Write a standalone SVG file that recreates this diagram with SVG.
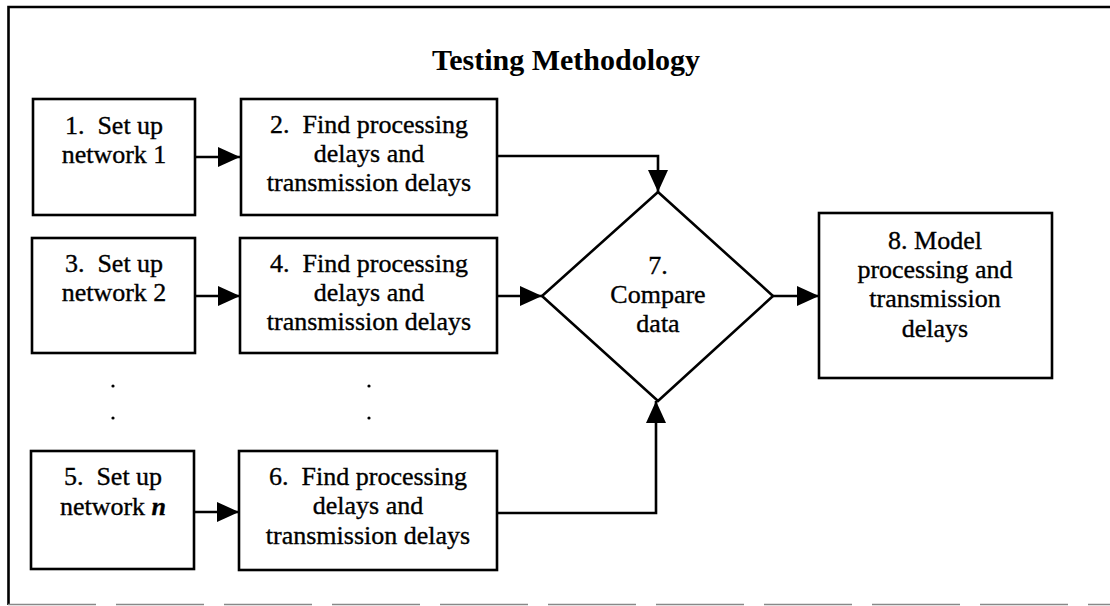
<svg xmlns="http://www.w3.org/2000/svg" width="1110" height="606" viewBox="0 0 1110 606">
  <style>
    .box { fill: #fff; stroke: #000; stroke-width: 2.6; }
    .txt { font-family: "Liberation Serif", "Times New Roman", serif; font-size: 26px; fill: #000; stroke: #000; stroke-width: 0.35; text-anchor: middle; }
    .title { font-family: "Liberation Serif", "Times New Roman", serif; font-size: 30px; font-weight: bold; fill: #000; text-anchor: middle; }
    .conn { fill: none; stroke: #000; stroke-width: 2.6; marker-end: url(#arrow); }
    .dot { fill: #000; }
  </style>
  <defs>
    <marker id="arrow" markerUnits="userSpaceOnUse" markerWidth="22" markerHeight="20" refX="22" refY="10" orient="auto">
      <path d="M0,0 L22,10 L0,20 Z" fill="#000"/>
    </marker>
  </defs>
  <rect width="1110" height="606" fill="#fff"/>

  <!-- outer frame -->
  <g id="frame">
    <path d="M1110,7 H8.5 V605" fill="none" stroke="#000" stroke-width="2.6"/>
    <line x1="8" y1="604.5" x2="1110" y2="604.5" stroke="#888" stroke-width="1.3" stroke-dasharray="88,20"/>
  </g>

  <text class="title" x="566" y="70">Testing Methodology</text>

  <!-- connectors -->
  <g id="connectors">
    <line class="conn" x1="195" y1="157" x2="240" y2="157"/>
    <line class="conn" x1="195" y1="296" x2="240" y2="296"/>
    <line class="conn" x1="194" y1="512" x2="239" y2="512"/>
    <path class="conn" d="M497,156 H658 V192"/>
    <line class="conn" x1="497" y1="296" x2="542" y2="296"/>
    <path class="conn" d="M497,513 H656 V401"/>
    <line class="conn" x1="773" y1="296" x2="819" y2="296"/>
  </g>

  <g id="n1">
    <rect class="box" x="33" y="99" width="162" height="116"/>
    <text class="txt" x="114" y="134">1.&#160; Set up</text>
    <text class="txt" x="114" y="163">network 1</text>
  </g>
  <g id="n2">
    <rect class="box" x="241" y="99" width="256" height="116"/>
    <text class="txt" x="369" y="133">2.&#160; Find processing</text>
    <text class="txt" x="369" y="162">delays and</text>
    <text class="txt" x="369" y="191">transmission delays</text>
  </g>
  <g id="n3">
    <rect class="box" x="32" y="238" width="163" height="115"/>
    <text class="txt" x="114" y="272">3.&#160; Set up</text>
    <text class="txt" x="114" y="301">network 2</text>
  </g>
  <g id="n4">
    <rect class="box" x="240" y="238" width="257" height="115"/>
    <text class="txt" x="369" y="272">4.&#160; Find processing</text>
    <text class="txt" x="369" y="301">delays and</text>
    <text class="txt" x="369" y="330">transmission delays</text>
  </g>
  <g id="n5">
    <rect class="box" x="31" y="451" width="163" height="118"/>
    <text class="txt" x="113" y="485">5.&#160; Set up</text>
    <text class="txt" x="113" y="515">network <tspan font-style="italic" font-weight="bold">n</tspan></text>
  </g>
  <g id="n6">
    <rect class="box" x="239" y="451" width="258" height="119"/>
    <text class="txt" x="368" y="485">6.&#160; Find processing</text>
    <text class="txt" x="368" y="514">delays and</text>
    <text class="txt" x="368" y="544">transmission delays</text>
  </g>
  <g id="n7">
    <polygon class="box" points="658,192 773,296 658,401 542,296"/>
    <text class="txt" x="658" y="274">7.</text>
    <text class="txt" x="658" y="303">Compare</text>
    <text class="txt" x="658" y="332">data</text>
  </g>
  <g id="n8">
    <rect class="box" x="819" y="213" width="233" height="165"/>
    <text class="txt" x="935" y="249">8. Model</text>
    <text class="txt" x="935" y="278">processing and</text>
    <text class="txt" x="935" y="307">transmission</text>
    <text class="txt" x="935" y="337">delays</text>
  </g>

  <!-- ellipsis dots between the rows -->
  <g id="dots">
    <circle class="dot" cx="113" cy="386" r="1.6"/>
    <circle class="dot" cx="113" cy="418" r="1.6"/>
    <circle class="dot" cx="369" cy="386" r="1.6"/>
    <circle class="dot" cx="369" cy="418" r="1.6"/>
  </g>
</svg>
